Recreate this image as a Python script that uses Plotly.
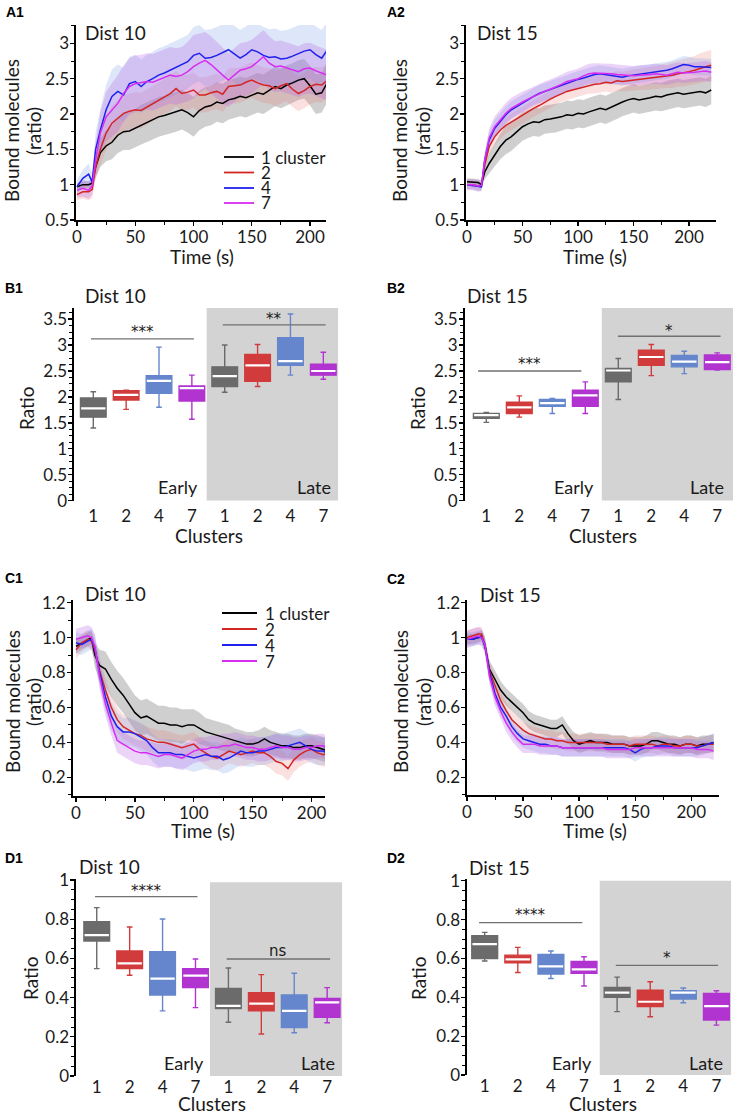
import plotly.graph_objects as go

W, H = 736, 1114
FONT = "Lato"
TXT = "#1a1a1a"

# ---------------- time grids ----------------
T_A1 = [0, 5, 10, 13, 16, 20, 25, 30, 35, 40, 45, 50, 55, 60, 65, 70, 75, 80, 85, 90, 95, 100,
        105, 110, 115, 120, 125, 130, 135, 140, 145, 150, 155, 160, 165, 170, 175, 180, 185, 190,
        195, 200, 205, 210, 215]
T_A2 = T_A1 + [220]

SERIES = ["1 cluster", "2", "4", "7"]

# ---------------- A1 : Dist 10, binding ----------------
A1_k1 = [0.97, 1.00, 1.00, 1.02, 1.25,
         1.45, 1.55, 1.60, 1.70, 1.75, 1.76, 1.80, 1.85, 1.89, 1.92,
         1.96, 1.98, 2.01, 2.03, 2.06, 2.02, 1.96, 2.05, 2.10, 2.12,
         2.17, 2.15, 2.20, 2.22, 2.25, 2.23, 2.27, 2.30, 2.28, 2.33,
         2.39, 2.36, 2.41, 2.44, 2.48, 2.50, 2.40, 2.28, 2.30, 2.45]
A1_k2 = [0.86, 0.90, 0.90, 0.93, 1.25,
         1.50, 1.73, 1.87, 1.94, 2.01, 2.04, 2.06, 2.05, 2.10, 2.15,
         2.20, 2.25, 2.29, 2.36, 2.29, 2.31, 2.34, 2.27, 2.27, 2.30,
         2.32, 2.28, 2.39, 2.40, 2.41, 2.45, 2.48, 2.44, 2.41, 2.40,
         2.36, 2.40, 2.43, 2.35, 2.29, 2.33, 2.39, 2.42, 2.41, 2.48]
A1_k4 = [0.97, 1.09, 1.15, 1.04, 1.50,
         1.77, 2.06, 2.25, 2.32, 2.27, 2.43, 2.46, 2.39, 2.46, 2.50,
         2.55, 2.58, 2.62, 2.65, 2.69, 2.74, 2.83, 2.86, 2.79, 2.80,
         2.83, 2.87, 2.91, 2.85, 2.79, 2.84, 2.91, 2.88, 2.83, 2.80,
         2.81, 2.78, 2.79, 2.82, 2.86, 2.89, 2.91, 2.84, 2.79, 2.91]
A1_k7 = [0.92, 0.95, 0.92, 0.98, 1.35,
         1.73, 1.96, 2.06, 2.15, 2.29, 2.39, 2.43, 2.44, 2.46, 2.45,
         2.48, 2.52, 2.55, 2.53, 2.55, 2.60, 2.67, 2.72, 2.76, 2.70,
         2.62, 2.55, 2.48, 2.55, 2.62, 2.64, 2.67, 2.74, 2.81, 2.72,
         2.67, 2.68, 2.65, 2.63, 2.60, 2.64, 2.65, 2.61, 2.58, 2.55]
A1_s1 = [0.04, 0.05, 0.05, 0.06, 0.15,
         0.20, 0.22, 0.24, 0.25, 0.26, 0.27, 0.27, 0.28, 0.28, 0.28,
         0.28, 0.28, 0.28, 0.28, 0.28, 0.28, 0.28, 0.28, 0.28, 0.28,
         0.28, 0.28, 0.28, 0.28, 0.28, 0.28, 0.28, 0.28, 0.28, 0.28,
         0.28, 0.28, 0.28, 0.28, 0.28, 0.28, 0.28, 0.28, 0.28, 0.28]
A1_s2 = [0.08, 0.10, 0.12, 0.12, 0.18,
         0.22, 0.24, 0.25, 0.25, 0.25, 0.25, 0.25, 0.25, 0.25, 0.25,
         0.25, 0.25, 0.25, 0.25, 0.25, 0.25, 0.25, 0.25, 0.25, 0.25,
         0.25, 0.25, 0.25, 0.25, 0.25, 0.25, 0.25, 0.25, 0.25, 0.25,
         0.25, 0.25, 0.25, 0.25, 0.25, 0.25, 0.25, 0.25, 0.25, 0.25]
A1_s4 = [0.10, 0.12, 0.15, 0.12, 0.25,
         0.30, 0.35, 0.38, 0.38, 0.38, 0.38, 0.38, 0.38, 0.38, 0.38,
         0.38, 0.38, 0.38, 0.38, 0.38, 0.38, 0.40, 0.40, 0.40, 0.40,
         0.40, 0.40, 0.40, 0.40, 0.40, 0.40, 0.40, 0.40, 0.40, 0.40,
         0.40, 0.40, 0.40, 0.40, 0.40, 0.40, 0.40, 0.40, 0.40, 0.40]
A1_s7 = [0.10, 0.12, 0.12, 0.12, 0.25,
         0.30, 0.35, 0.38, 0.40, 0.40, 0.40, 0.40, 0.40, 0.40, 0.40,
         0.40, 0.40, 0.40, 0.40, 0.40, 0.42, 0.45, 0.42, 0.40, 0.40,
         0.40, 0.40, 0.38, 0.38, 0.38, 0.38, 0.38, 0.38, 0.38, 0.38,
         0.36, 0.36, 0.36, 0.36, 0.36, 0.36, 0.36, 0.36, 0.36, 0.36]

# ---------------- A2 : Dist 15, binding ----------------
A2_k1 = [1.04, 1.03, 1.03, 1.00, 1.18,
         1.30, 1.42, 1.54, 1.63, 1.68, 1.75, 1.82, 1.86, 1.89, 1.88,
         1.92, 1.93, 1.94, 1.96, 1.99, 1.98, 2.01, 2.00, 2.03, 2.05,
         2.08, 2.06, 2.10, 2.13, 2.17, 2.20, 2.22, 2.20, 2.21, 2.23,
         2.25, 2.24, 2.27, 2.28, 2.30, 2.28, 2.29, 2.31, 2.32, 2.30,
         2.34]
A2_k2 = [1.00, 1.00, 0.98, 0.98, 1.28,
         1.54, 1.68, 1.77, 1.84, 1.89, 1.94, 1.99, 2.03, 2.08, 2.12,
         2.17, 2.21, 2.25, 2.29, 2.32, 2.34, 2.36, 2.39, 2.41, 2.42,
         2.43, 2.45, 2.44, 2.47, 2.46, 2.47, 2.48, 2.49, 2.50, 2.51,
         2.52, 2.53, 2.54, 2.55, 2.57, 2.58, 2.60, 2.62, 2.65, 2.67,
         2.69]
A2_k4 = [1.00, 0.99, 0.97, 0.97, 1.35,
         1.63, 1.80, 1.89, 1.99, 2.06, 2.11, 2.15, 2.20, 2.25, 2.29,
         2.32, 2.35, 2.38, 2.41, 2.43, 2.46, 2.49, 2.51, 2.54, 2.56,
         2.57, 2.56, 2.54, 2.53, 2.52, 2.54, 2.55, 2.57, 2.58, 2.59,
         2.60, 2.61, 2.62, 2.64, 2.67, 2.70, 2.69, 2.67, 2.67, 2.66,
         2.66]
A2_k7 = [1.00, 1.00, 0.98, 0.99, 1.35,
         1.66, 1.82, 1.92, 2.01, 2.08, 2.13, 2.17, 2.21, 2.25, 2.29,
         2.32, 2.35, 2.38, 2.42, 2.46, 2.48, 2.50, 2.54, 2.57, 2.58,
         2.58, 2.57, 2.57, 2.56, 2.55, 2.55, 2.54, 2.55, 2.55, 2.56,
         2.57, 2.56, 2.55, 2.57, 2.59, 2.58, 2.58, 2.59, 2.60, 2.61,
         2.59]
A2_s1 = [0.05, 0.05, 0.05, 0.05, 0.10,
         0.14, 0.16, 0.18, 0.20, 0.20, 0.20, 0.20, 0.20, 0.20, 0.20,
         0.20, 0.20, 0.20, 0.20, 0.20, 0.20, 0.20, 0.20, 0.20, 0.20,
         0.20, 0.20, 0.20, 0.20, 0.20, 0.20, 0.20, 0.20, 0.20, 0.20,
         0.20, 0.20, 0.20, 0.20, 0.20, 0.20, 0.20, 0.20, 0.20, 0.20,
         0.20]
A2_s2 = [0.06, 0.06, 0.06, 0.06, 0.10,
         0.12, 0.12, 0.12, 0.12, 0.12, 0.12, 0.12, 0.12, 0.12, 0.12,
         0.12, 0.12, 0.12, 0.12, 0.12, 0.12, 0.12, 0.12, 0.12, 0.13,
         0.13, 0.13, 0.14, 0.14, 0.14, 0.15, 0.15, 0.15, 0.16, 0.16,
         0.16, 0.17, 0.17, 0.18, 0.18, 0.19, 0.20, 0.20, 0.21, 0.21,
         0.22]
A2_s4 = [0.06, 0.06, 0.06, 0.06, 0.10,
         0.12, 0.12, 0.12, 0.12, 0.12, 0.12, 0.12, 0.12, 0.12, 0.12,
         0.12, 0.12, 0.12, 0.12, 0.12, 0.12, 0.12, 0.12, 0.12, 0.12,
         0.12, 0.12, 0.12, 0.12, 0.12, 0.12, 0.12, 0.12, 0.12, 0.12,
         0.12, 0.12, 0.12, 0.12, 0.12, 0.12, 0.12, 0.12, 0.12, 0.12,
         0.12]
A2_s7 = [0.08, 0.08, 0.08, 0.08, 0.12,
         0.14, 0.15, 0.15, 0.15, 0.15, 0.15, 0.15, 0.14, 0.14, 0.14,
         0.14, 0.14, 0.14, 0.14, 0.14, 0.14, 0.14, 0.14, 0.14, 0.14,
         0.14, 0.14, 0.14, 0.14, 0.14, 0.14, 0.14, 0.14, 0.14, 0.14,
         0.14, 0.14, 0.14, 0.14, 0.14, 0.14, 0.14, 0.14, 0.14, 0.14,
         0.14]

# ---------------- C1 : Dist 10, unbinding ----------------
C1_k1 = [0.95, 0.97, 0.99, 1.00, 0.90,
         0.84, 0.82, 0.76, 0.71, 0.67, 0.62, 0.57, 0.54, 0.55, 0.53,
         0.51, 0.51, 0.50, 0.50, 0.49, 0.50, 0.50, 0.48, 0.46, 0.45,
         0.44, 0.43, 0.42, 0.41, 0.40, 0.39, 0.39, 0.40, 0.42, 0.40,
         0.39, 0.38, 0.38, 0.37, 0.37, 0.38, 0.38, 0.37, 0.36, 0.35]
C1_k2 = [0.93, 0.97, 0.99, 0.98, 0.93,
         0.81, 0.70, 0.60, 0.53, 0.49, 0.47, 0.45, 0.44, 0.42, 0.41,
         0.40, 0.40, 0.39, 0.38, 0.37, 0.38, 0.39, 0.36, 0.34, 0.32,
         0.31, 0.33, 0.35, 0.34, 0.33, 0.34, 0.35, 0.34, 0.34, 0.32,
         0.29, 0.28, 0.25, 0.30, 0.33, 0.35, 0.36, 0.34, 0.33, 0.34]
C1_k4 = [0.97, 0.96, 0.98, 0.99, 0.94,
         0.80, 0.66, 0.55, 0.49, 0.46, 0.46, 0.45, 0.43, 0.41, 0.37,
         0.34, 0.34, 0.34, 0.33, 0.33, 0.32, 0.31, 0.32, 0.33, 0.32,
         0.32, 0.30, 0.31, 0.33, 0.35, 0.34, 0.34, 0.35, 0.35, 0.36,
         0.37, 0.37, 0.38, 0.39, 0.40, 0.38, 0.36, 0.35, 0.35, 0.33]
C1_k7 = [0.99, 1.00, 1.01, 1.00, 0.95,
         0.78, 0.62, 0.51, 0.41, 0.39, 0.37, 0.35, 0.34, 0.34, 0.33,
         0.32, 0.33, 0.33, 0.32, 0.31, 0.33, 0.35, 0.36, 0.36, 0.37,
         0.37, 0.38, 0.38, 0.39, 0.38, 0.37, 0.37, 0.36, 0.36, 0.37,
         0.38, 0.37, 0.37, 0.36, 0.36, 0.37, 0.37, 0.38, 0.38, 0.35]
C1_s1 = [0.04, 0.04, 0.04, 0.04, 0.07,
         0.09, 0.10, 0.10, 0.10, 0.10, 0.10, 0.10, 0.10, 0.10, 0.10,
         0.10, 0.10, 0.10, 0.10, 0.10, 0.09, 0.09, 0.09, 0.08, 0.08,
         0.08, 0.08, 0.08, 0.07, 0.07, 0.07, 0.07, 0.07, 0.07, 0.07,
         0.07, 0.07, 0.07, 0.07, 0.07, 0.07, 0.07, 0.07, 0.07, 0.07]
C1_s2 = [0.05, 0.05, 0.05, 0.05, 0.06,
         0.07, 0.07, 0.07, 0.07, 0.07, 0.07, 0.07, 0.07, 0.07, 0.07,
         0.07, 0.07, 0.07, 0.07, 0.07, 0.07, 0.07, 0.07, 0.07, 0.07,
         0.07, 0.07, 0.07, 0.07, 0.07, 0.07, 0.07, 0.07, 0.07, 0.07,
         0.07, 0.07, 0.07, 0.07, 0.07, 0.07, 0.07, 0.07, 0.07, 0.07]
C1_s4 = [0.06, 0.06, 0.06, 0.06, 0.07,
         0.08, 0.08, 0.08, 0.08, 0.08, 0.08, 0.08, 0.08, 0.08, 0.08,
         0.08, 0.08, 0.08, 0.08, 0.08, 0.08, 0.08, 0.08, 0.08, 0.08,
         0.08, 0.08, 0.08, 0.08, 0.08, 0.08, 0.08, 0.08, 0.08, 0.08,
         0.08, 0.08, 0.08, 0.08, 0.08, 0.08, 0.08, 0.08, 0.08, 0.08]
C1_s7 = [0.06, 0.06, 0.06, 0.06, 0.07,
         0.07, 0.07, 0.07, 0.07, 0.07, 0.07, 0.07, 0.07, 0.07, 0.07,
         0.07, 0.07, 0.07, 0.07, 0.07, 0.07, 0.07, 0.07, 0.07, 0.07,
         0.07, 0.07, 0.07, 0.07, 0.07, 0.07, 0.07, 0.07, 0.07, 0.07,
         0.07, 0.07, 0.07, 0.07, 0.07, 0.07, 0.07, 0.07, 0.07, 0.07]

# ---------------- C2 : Dist 15, unbinding ----------------
C2_k1 = [0.99, 0.99, 1.00, 1.01, 0.95,
         0.82, 0.76, 0.70, 0.66, 0.63, 0.60, 0.57, 0.53, 0.51, 0.50,
         0.49, 0.48, 0.48, 0.50, 0.45, 0.41, 0.39, 0.40, 0.41, 0.40,
         0.40, 0.40, 0.39, 0.39, 0.39, 0.38, 0.38, 0.38, 0.39, 0.41,
         0.41, 0.40, 0.39, 0.39, 0.38, 0.39, 0.39, 0.38, 0.39, 0.39,
         0.40]
C2_k2 = [1.00, 1.01, 1.02, 1.02, 0.96,
         0.81, 0.72, 0.64, 0.58, 0.53, 0.50, 0.47, 0.45, 0.44, 0.43,
         0.42, 0.42, 0.41, 0.41, 0.40, 0.40, 0.40, 0.40, 0.40, 0.40,
         0.40, 0.39, 0.39, 0.39, 0.39, 0.38, 0.39, 0.39, 0.39, 0.39,
         0.38, 0.39, 0.39, 0.38, 0.38, 0.39, 0.39, 0.38, 0.38, 0.39,
         0.39]
C2_k4 = [0.99, 0.99, 1.00, 1.00, 0.96,
         0.80, 0.68, 0.60, 0.55, 0.49, 0.45, 0.42, 0.41, 0.40, 0.39,
         0.39, 0.38, 0.38, 0.37, 0.37, 0.37, 0.37, 0.37, 0.37, 0.37,
         0.37, 0.37, 0.37, 0.37, 0.37, 0.36, 0.34, 0.36, 0.37, 0.37,
         0.38, 0.38, 0.38, 0.37, 0.37, 0.37, 0.37, 0.37, 0.38, 0.39,
         0.40]
C2_k7 = [0.99, 1.00, 1.01, 1.00, 0.96,
         0.78, 0.66, 0.58, 0.51, 0.46, 0.42, 0.39, 0.39, 0.39, 0.38,
         0.38, 0.38, 0.38, 0.37, 0.37, 0.37, 0.37, 0.37, 0.37, 0.37,
         0.37, 0.36, 0.36, 0.36, 0.36, 0.36, 0.37, 0.37, 0.37, 0.37,
         0.37, 0.37, 0.37, 0.37, 0.37, 0.37, 0.37, 0.36, 0.36, 0.36,
         0.35]
C2_s1 = [0.03, 0.03, 0.03, 0.03, 0.04,
         0.05, 0.05, 0.05, 0.05, 0.05, 0.05, 0.05, 0.05, 0.05, 0.05,
         0.05, 0.05, 0.05, 0.05, 0.05, 0.05, 0.05, 0.05, 0.05, 0.05,
         0.05, 0.05, 0.05, 0.05, 0.05, 0.05, 0.05, 0.05, 0.05, 0.05,
         0.05, 0.05, 0.05, 0.05, 0.05, 0.05, 0.05, 0.05, 0.05, 0.05,
         0.05]
C2_s2 = [0.04, 0.04, 0.04, 0.04, 0.04,
         0.05, 0.05, 0.05, 0.05, 0.05, 0.05, 0.05, 0.05, 0.05, 0.05,
         0.05, 0.05, 0.05, 0.05, 0.05, 0.05, 0.05, 0.05, 0.05, 0.05,
         0.05, 0.05, 0.05, 0.05, 0.05, 0.05, 0.05, 0.05, 0.05, 0.05,
         0.05, 0.05, 0.05, 0.05, 0.05, 0.05, 0.05, 0.05, 0.05, 0.05,
         0.05]
C2_s4 = [0.04, 0.04, 0.04, 0.04, 0.04,
         0.05, 0.05, 0.05, 0.05, 0.05, 0.05, 0.05, 0.05, 0.05, 0.05,
         0.05, 0.05, 0.05, 0.05, 0.05, 0.05, 0.05, 0.05, 0.05, 0.05,
         0.05, 0.05, 0.05, 0.05, 0.05, 0.05, 0.05, 0.05, 0.05, 0.05,
         0.05, 0.05, 0.05, 0.05, 0.05, 0.05, 0.05, 0.05, 0.05, 0.05,
         0.05]
C2_s7 = [0.05, 0.05, 0.05, 0.05, 0.05,
         0.05, 0.05, 0.05, 0.05, 0.05, 0.05, 0.05, 0.05, 0.05, 0.05,
         0.05, 0.05, 0.05, 0.05, 0.05, 0.05, 0.05, 0.05, 0.05, 0.05,
         0.05, 0.05, 0.05, 0.05, 0.05, 0.05, 0.05, 0.05, 0.05, 0.05,
         0.05, 0.05, 0.05, 0.05, 0.05, 0.05, 0.05, 0.05, 0.05, 0.05,
         0.05]

# ---------------- box plots (8 boxes: Early 1,2,4,7 then Late 1,2,4,7) ----------------
BOX_LABELS = ["1", "2", "4", "7", "1", "2", "4", "7"]
BOX_POS = [0, 1, 2, 3, 4, 5, 6, 7]

B1_low = [1.40, 1.76, 1.80, 1.57, 2.09, 2.20, 2.42, 2.34]
B1_q1 = [1.61, 1.94, 2.07, 1.92, 2.20, 2.30, 2.61, 2.42]
B1_med = [1.78, 2.04, 2.31, 2.17, 2.40, 2.61, 2.69, 2.50]
B1_q3 = [1.98, 2.12, 2.41, 2.21, 2.58, 2.82, 3.14, 2.63]
B1_high = [2.10, 2.13, 2.96, 2.42, 3.00, 3.01, 3.60, 2.86]

B2_low = [1.51, 1.61, 1.68, 1.68, 1.95, 2.41, 2.45, 2.52]
B2_q1 = [1.59, 1.68, 1.82, 1.82, 2.29, 2.61, 2.58, 2.53]
B2_med = [1.65, 1.80, 1.88, 2.03, 2.51, 2.77, 2.68, 2.67]
B2_q3 = [1.68, 1.90, 1.95, 2.13, 2.55, 2.90, 2.80, 2.81]
B2_high = [1.70, 2.02, 1.97, 2.29, 2.74, 3.01, 2.88, 2.85]

D1_low = [0.548, 0.514, 0.332, 0.349, 0.274, 0.214, 0.221, 0.272]
D1_q1 = [0.689, 0.548, 0.413, 0.451, 0.344, 0.333, 0.247, 0.299]
D1_med = [0.719, 0.575, 0.497, 0.512, 0.358, 0.369, 0.332, 0.376]
D1_q3 = [0.787, 0.638, 0.634, 0.548, 0.447, 0.425, 0.413, 0.396]
D1_high = [0.859, 0.760, 0.801, 0.597, 0.551, 0.517, 0.524, 0.451]

D2_low = [0.587, 0.528, 0.497, 0.458, 0.326, 0.300, 0.372, 0.257]
D2_q1 = [0.599, 0.578, 0.520, 0.523, 0.400, 0.352, 0.391, 0.283]
D2_med = [0.674, 0.595, 0.559, 0.544, 0.424, 0.377, 0.424, 0.355]
D2_q3 = [0.717, 0.617, 0.621, 0.585, 0.451, 0.437, 0.434, 0.420]
D2_high = [0.734, 0.657, 0.638, 0.609, 0.504, 0.480, 0.448, 0.434]

# significance bars: (x_start, x_end, y, label, label_y)
SIG_B1 = [(-0.07, 3.06, 3.12, "***", 3.25), (3.94, 7.07, 3.39, "**", 3.51)]
SIG_B2 = [(-0.25, 2.88, 2.50, "***", 2.63), (3.99, 7.10, 3.17, "*", 3.28)]
SIG_D1 = [(-0.05, 3.06, 0.915, "****", 0.945), (3.95, 7.09, 0.597, "ns", 0.64)]
SIG_D2 = [(-0.17, 2.95, 0.784, "****", 0.822), (3.96, 7.05, 0.564, "*", 0.60)]

LINE_COLORS = ["#000000", "#d42525", "#2020ee", "#d72cf2"]
BAND_COLORS = ["rgba(110,110,110,0.33)", "rgba(235,115,115,0.22)",
               "rgba(120,160,230,0.25)", "rgba(180,95,230,0.27)"]
BOX_COLORS = ["#6b6b6b", "#d13b3b", "#6586cc", "#b133d0"]


def px(x):
    return x / W


def py(y):
    return 1 - y / H


fig = go.Figure()


def axn(i):
    return ("x" if i == 1 else f"x{i}"), ("y" if i == 1 else f"y{i}")


def add_timeseries(i, T, means, sds):
    xa, ya = axn(i)
    for m, s, bc in zip(means, sds, BAND_COLORS):
        n = min(len(T), len(m), len(s))
        t = T[:n]
        up = [a + b for a, b in zip(m[:n], s[:n])]
        lo = [a - b for a, b in zip(m[:n], s[:n])]
        fig.add_trace(go.Scatter(x=t + t[::-1], y=up + lo[::-1], fill="toself",
                                 fillcolor=bc, line=dict(width=0), mode="lines",
                                 hoverinfo="skip", showlegend=False, xaxis=xa, yaxis=ya))
    for m, lc, name in zip(means, LINE_COLORS, SERIES):
        n = min(len(T), len(m))
        fig.add_trace(go.Scatter(x=T[:n], y=m[:n], mode="lines", name=name, showlegend=False,
                                 line=dict(color=lc, width=1.5), xaxis=xa, yaxis=ya))


def add_boxes(i, low, q1, med, q3, high):
    xa, ya = axn(i)
    for k in range(8):
        c = BOX_COLORS[k % 4]
        fig.add_trace(go.Box(x=[BOX_POS[k]], q1=[q1[k]], median=[med[k]], q3=[q3[k]],
                             lowerfence=[low[k]], upperfence=[high[k]],
                             width=0.78, whiskerwidth=0.22, fillcolor=c,
                             line=dict(color=c, width=1.4), boxpoints=False,
                             showlegend=False, xaxis=xa, yaxis=ya, hoverinfo="skip"))
        fig.add_trace(go.Scatter(x=[BOX_POS[k] - 0.37, BOX_POS[k] + 0.37], y=[med[k], med[k]],
                                 mode="lines", line=dict(color="white", width=2.2),
                                 showlegend=False, xaxis=xa, yaxis=ya, hoverinfo="skip"))


add_timeseries(1, T_A1, [A1_k1, A1_k2, A1_k4, A1_k7], [A1_s1, A1_s2, A1_s4, A1_s7])
add_timeseries(2, T_A2, [A2_k1, A2_k2, A2_k4, A2_k7], [A2_s1, A2_s2, A2_s4, A2_s7])
add_boxes(3, B1_low, B1_q1, B1_med, B1_q3, B1_high)
add_boxes(4, B2_low, B2_q1, B2_med, B2_q3, B2_high)
add_timeseries(5, T_A1, [C1_k1, C1_k2, C1_k4, C1_k7], [C1_s1, C1_s2, C1_s4, C1_s7])
add_timeseries(6, T_A2, [C2_k1, C2_k2, C2_k4, C2_k7], [C2_s1, C2_s2, C2_s4, C2_s7])
add_boxes(7, D1_low, D1_q1, D1_med, D1_q3, D1_high)
add_boxes(8, D2_low, D2_q1, D2_med, D2_q3, D2_high)

TICKFONT = dict(family=FONT, size=17, color=TXT)


def yaxis(dom, rng, dtick, minor, anchor, tickvals=None, ticktext=None):
    d = dict(domain=[py(dom[1]), py(dom[0])], range=rng, dtick=dtick, showline=True,
             linecolor="black", linewidth=1.6, ticks="outside", ticklen=4, tickwidth=1.3,
             tickcolor="black", showgrid=False, zeroline=False, tickfont=TICKFONT,
             anchor=anchor, fixedrange=True, automargin=False, ticklabelstandoff=-2,
             minor=dict(dtick=minor, ticks="outside", ticklen=3, tickwidth=1,
                        tickcolor="black", showgrid=False))
    if tickvals:
        d.update(tickmode="array", tickvals=tickvals, ticktext=ticktext)
    return d


def xaxis_time(dom, rng, anchor):
    return dict(domain=[px(dom[0]), px(dom[1])], range=rng, dtick=50, showline=True,
                linecolor="black", linewidth=1.6, ticks="outside", ticklen=4, tickwidth=1.3,
                tickcolor="black", showgrid=False, zeroline=False, tickfont=TICKFONT,
                anchor=anchor, fixedrange=True, automargin=False, ticklabelstandoff=-3,
                minor=dict(dtick=25, ticks="outside", ticklen=3, tickwidth=1,
                           tickcolor="black", showgrid=False))


def xaxis_box(dom, rng, anchor, standoff):
    return dict(domain=[px(dom[0]), px(dom[1])], range=rng, showline=False,
                tickmode="array", tickvals=BOX_POS, ticktext=BOX_LABELS,
                ticks="", ticklabelstandoff=standoff,
                showgrid=False, zeroline=False, tickfont=TICKFONT, anchor=anchor,
                fixedrange=True, automargin=False)


C1_TV = [0.2, 0.4, 0.6, 0.8, 1.0, 1.2]
C1_TT = ["0.2", "0.4", "0.6", "0.8", "1.0", "1.2"]

fig.update_layout(
    xaxis=xaxis_time((76, 326), [-0.86, 213.7], "y"),
    yaxis=yaxis((25, 220), [0.5, 3.26], 0.5, 0.25, "x"),
    xaxis2=xaxis_time((466, 716), [-0.9, 224.3], "y2"),
    yaxis2=yaxis((25, 220), [0.5, 3.26], 0.5, 0.25, "x2"),
    xaxis3=xaxis_box((74, 338.3), [-0.587, 7.456], "y3", 3),
    yaxis3=yaxis((307.7, 500.7), [0, 3.72], 0.5, 0.125, "x3"),
    xaxis4=xaxis_box((464.7, 733), [-0.655, 7.476], "y4", 3),
    yaxis4=yaxis((307.7, 500.7), [0, 3.72], 0.5, 0.125, "x4"),
    xaxis5=xaxis_time((72.7, 325), [-2.8, 211.4], "y5"),
    yaxis5=yaxis((600, 796), [0.093, 1.215], 0.2, 0.1, "x5", C1_TV, C1_TT),
    xaxis6=xaxis_time((467, 718.7), [0, 224.5], "y6"),
    yaxis6=yaxis((600, 795), [0.099, 1.215], 0.2, 0.1, "x6"),
    xaxis7=xaxis_box((76, 342.3), [-0.63, 7.46], "y7", -1),
    yaxis7=yaxis((879, 1076), [0, 1.005], 0.2, 0.05, "x7"),
    xaxis8=xaxis_box((467, 731.3), [-0.535, 7.45], "y8", -1),
    yaxis8=yaxis((879, 1075), [0, 1.009], 0.2, 0.05, "x8"),
)
fig.layout.yaxis5.minor = dict(tickvals=[0.1, 0.3, 0.5, 0.7, 0.9, 1.1], ticks="outside",
                               ticklen=3, tickwidth=1, tickcolor="black", showgrid=False)

shapes = []
for ax, x0, x1, y1 in [(3, 3.45, 7.456, 3.72), (4, 3.5, 7.476, 3.72),
                       (7, 3.44, 7.46, 0.988), (8, 3.475, 7.45, 1.0)]:
    shapes.append(dict(type="rect", xref=f"x{ax}", yref=f"y{ax}", x0=x0, x1=x1, y0=0, y1=y1,
                       fillcolor="#d3d3d3", line=dict(width=0), layer="below"))

annotations = []
for ax, sig in [(3, SIG_B1), (4, SIG_B2), (7, SIG_D1), (8, SIG_D2)]:
    for x0, x1, yv, lab, ly in sig:
        shapes.append(dict(type="line", xref=f"x{ax}", yref=f"y{ax}", x0=x0, x1=x1, y0=yv, y1=yv,
                           line=dict(color="#707070", width=1.3)))
        annotations.append(dict(xref=f"x{ax}", yref=f"y{ax}", x=(x0 + x1) / 2, y=ly, text=lab,
                                showarrow=False, font=dict(family="DejaVu Sans", size=15, color=TXT),
                                xanchor="center", yanchor="middle"))


def ann(text, x, y, size=17, xanchor="center", yanchor="middle", angle=0,
        family=FONT, color=TXT):
    annotations.append(dict(xref="paper", yref="paper", x=px(x), y=py(y), text=text,
                            showarrow=False, textangle=angle, xanchor=xanchor, yanchor=yanchor,
                            font=dict(family=family, size=size, color=color)))


# panel labels
for lab, x, y in [("A1", 4, 12), ("A2", 385, 12), ("B1", 3, 288), ("B2", 385, 288),
                  ("C1", 3, 578), ("C2", 385, 579), ("D1", 3, 858), ("D2", 385, 858)]:
    ann(f"<b>{lab}</b>", x, y, size=14, xanchor="left", family="Liberation Sans", color="#000")

# panel titles
for lab, x, y in [("Dist 10", 83, 33), ("Dist 15", 475, 33), ("Dist 10", 83, 296),
                  ("Dist 15", 465, 296), ("Dist 10", 83, 593), ("Dist 15", 478, 594),
                  ("Dist 10", 77, 866), ("Dist 15", 467, 867)]:
    ann(lab, x, y, size=19, xanchor="left")

# y-axis titles
for x1, x2, y in [(12, 34, 131), (400, 423, 131), (12, 33, 702), (400, 423, 702)]:
    ann("Bound molecules", x1, y, size=19, angle=-90)
    ann("(ratio)", x2, y, size=19, angle=-90)
for x, y in [(27, 408), (418, 408), (31, 978), (419, 978)]:
    ann("Ratio", x, y, size=19, angle=-90)

# x-axis titles
for lab, x, y in [("Time (s)", 202, 256), ("Time (s)", 595, 256), ("Clusters", 209, 535),
                  ("Clusters", 603, 535), ("Time (s)", 203, 830), ("Time (s)", 595, 830),
                  ("Clusters", 212, 1103), ("Clusters", 603, 1103)]:
    ann(lab, x, y, size=19)

# Early / Late
for lab, x, y in [("Early", 200, 487), ("Late", 333, 487), ("Early", 596, 487), ("Late", 726, 487),
                  ("Early", 206, 1063), ("Late", 337, 1063), ("Early", 594, 1063),
                  ("Late", 725, 1063)]:
    ann(lab, x, y, size=18, xanchor="right")

# legends (A1 and C1): short line samples + labels
for (lx0, lx1, tx, rows) in [(224, 254, 259, [157, 172.5, 188, 203]),
                             (222, 257, 263, [613, 629, 645, 661])]:
    for name, col, yy in zip(SERIES, LINE_COLORS, rows):
        shapes.append(dict(type="line", xref="paper", yref="paper", x0=px(lx0), x1=px(lx1),
                           y0=py(yy), y1=py(yy), line=dict(color=col, width=1.8)))
        ann(name, tx, yy, size=17, xanchor="left")

fig.update_layout(
    width=W, height=H, margin=dict(l=0, r=0, t=0, b=0, autoexpand=False),
    paper_bgcolor="white", plot_bgcolor="rgba(0,0,0,0)",
    font=dict(family=FONT, color=TXT), showlegend=False,
    shapes=shapes, annotations=annotations, boxmode="overlay",
)

fig.write_html("out.html", config={"displayModeBar": False, "staticPlot": True},
               post_script="document.body.style.margin='0px';document.body.style.padding='0px';"
                           "document.body.style.overflow='hidden';")
